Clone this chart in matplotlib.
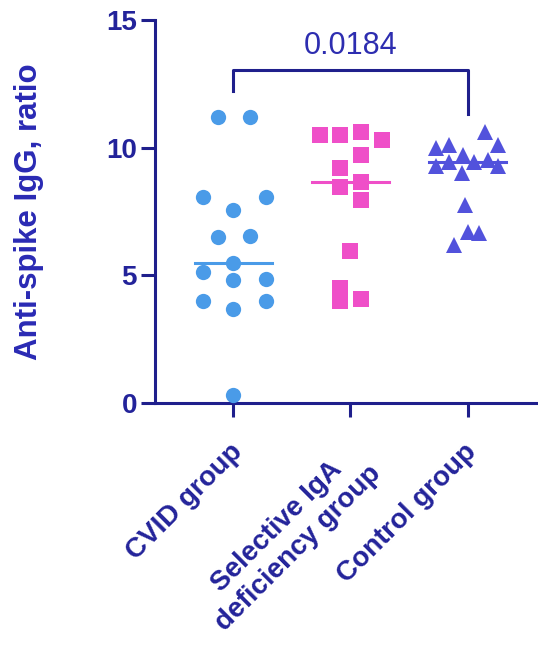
import numpy as np
import matplotlib
matplotlib.use("Agg")
import matplotlib.pyplot as plt
from matplotlib.transforms import ScaledTranslation

plt.rcParams['font.family'] = ['Liberation Sans', 'DejaVu Sans']

categories = ["CVID group", "Selective IgA\ndeficiency group", "Control group"]

# values, with the horizontal scatter offset of each point
cvid_vals = [11.2, 11.2, 8.08, 8.08, 7.57, 6.5, 6.55, 5.49, 5.14, 4.82, 4.84, 4.0, 4.0, 3.69, 0.31]
cvid_jitter = [-0.13, 0.14, -0.26, 0.28, 0.0, -0.13, 0.14, 0.0, -0.26, 0.0, 0.28, -0.26, 0.28, 0.0, 0.0]

siga_vals = [10.5, 10.5, 10.6, 10.3, 9.7, 9.2, 8.47, 8.67, 7.96, 5.96, 4.5, 3.98, 4.08]
siga_jitter = [-0.26, -0.09, 0.09, 0.27, 0.09, -0.09, -0.09, 0.09, 0.09, 0.0, -0.09, -0.09, 0.09]

ctrl_vals = [10.6, 10.0, 10.1, 10.1, 9.7, 9.45, 9.5, 9.3, 9.45, 9.3, 9.0, 7.76, 6.7, 6.67, 6.2]
ctrl_jitter = [0.15, -0.27, -0.16, 0.26, -0.04, 0.05, 0.17, -0.27, -0.16, 0.26, -0.05, -0.02, 0.0, 0.1, -0.12]

p_value = "0.0184"

navy = "#1f1f8c"
colors = ["#4a9be8", "#ef4fc8", "#5252dc"]
markers = ["o", "s", "^"]

fig = plt.figure(figsize=(5.38, 6.46), dpi=100)
ax = fig.add_axes([155/538, 1 - 403/646, (538 - 155)/538, (403 - 20)/646])

groups = [(cvid_vals, cvid_jitter), (siga_vals, siga_jitter), (ctrl_vals, ctrl_jitter)]
for i, (vals, jit) in enumerate(groups):
    xs = i + np.array(jit)
    ax.plot(xs, vals, linestyle="none", marker=markers[i], markersize=11,
            color=colors[i], markeredgewidth=0, clip_on=False, zorder=3)
    med = np.median(vals)
    ax.plot([i - 0.33, i + 0.33], [med, med], color=colors[i], lw=2.2, zorder=2)

# significance bracket
ax.plot([0, 0, 2, 2], [12.2, 13.05, 13.05, 11.3], color=navy, lw=2.2, clip_on=False)
ax.text(1, 14.0, p_value, ha="center", va="center", fontsize=22, color="#2d2db0")

ax.set_xlim(-0.667, 2.6)
ax.set_ylim(0, 15)
ax.set_yticks([0, 5, 10, 15])
ax.set_xticks(range(3))
ax.set_xticklabels(categories, rotation=45, ha="right", va="top",
                   rotation_mode="anchor", multialignment="center")

for s in ["top", "right"]:
    ax.spines[s].set_visible(False)
for s in ["left", "bottom"]:
    ax.spines[s].set_color(navy)
    ax.spines[s].set_linewidth(2.2)

ax.tick_params(axis="both", colors=navy, width=2.2, length=10, labelsize=20)
ax.tick_params(axis="y", pad=3)
ax.tick_params(axis="x", pad=16)
shift = ScaledTranslation(-4/100, 0, fig.dpi_scale_trans)
for lbl in ax.get_xticklabels():
    lbl.set_transform(lbl.get_transform() + shift)
for lbl in ax.get_xticklabels() + ax.get_yticklabels():
    lbl.set_fontweight("bold")
    lbl.set_color("#23239a")

ax.set_ylabel("Anti-spike IgG, ratio", fontsize=22.5, fontweight="bold", color="#2a2ab4")
ax.yaxis.set_label_coords(-0.29, 0.5)

fig.savefig("out.png", dpi=100)
